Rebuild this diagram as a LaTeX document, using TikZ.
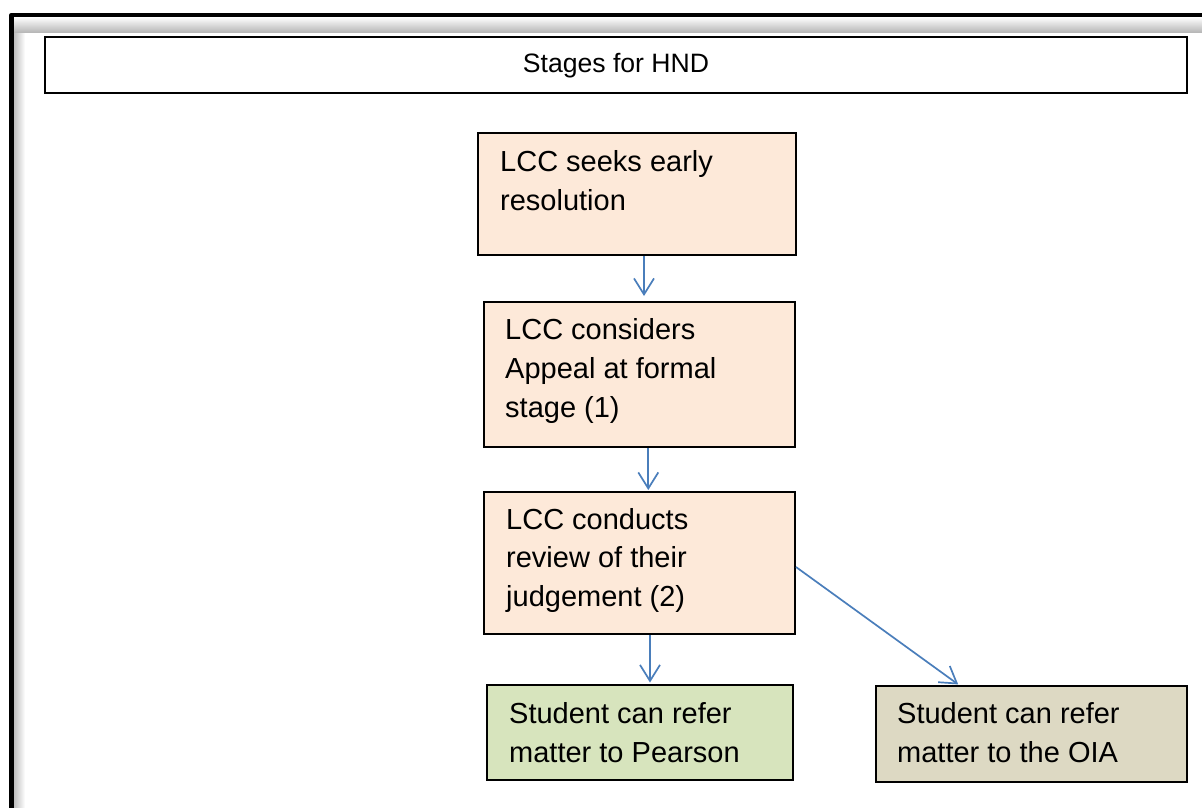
\documentclass[tikz,border=0pt]{standalone}
\usepackage{fontspec}
\setmainfont{Liberation Sans}
\usetikzlibrary{arrows.meta}
\definecolor{peach}{HTML}{FDE9D9}
\definecolor{sage}{HTML}{D7E4BD}
\definecolor{tan}{HTML}{DDD9C3}
\definecolor{arrblue}{HTML}{4A7EBB}
\tikzset{
  boxnode/.style={draw=black, line width=2pt, rectangle, inner sep=0pt},
  txt/.style={inner sep=0pt, align=left, font=\fontsize{29}{38.8}\selectfont, anchor=base west},
  arr/.style={draw=arrblue, line width=1.7pt, -{Straight Barb[length=16pt,width=20pt]}}
}
\begin{document}
\begin{tikzpicture}[x=1pt,y=-1pt]
\useasboundingbox (0,0) rectangle (1202,807);
\fill[white] (0,0) rectangle (1202,807);
% shadow inside the outer frame
\shade[left color=black!28, right color=white] (13,17) rectangle (25,807);
\shade[bottom color=black!28, top color=white] (13,17) rectangle (1202,32);
% outer frame (right and bottom edges lie outside the picture)
\draw[line width=4.6pt, line join=round] (1240,15) -- (11.5,15) -- (11.5,840);
% title
\node[boxnode, minimum width=1142pt, minimum height=56pt] (title) at (616,65) {};
\node[inner sep=0pt, anchor=base, font=\fontsize{26.6}{32}\selectfont] (tt) at (616,72.3) {Stages for HND};
% boxes
\node[boxnode, fill=peach, minimum width=318pt, minimum height=122pt] (b1) at (637,194) {};
\node[boxnode, fill=peach, minimum width=311pt, minimum height=145pt] (b2) at (639.5,374.5) {};
\node[boxnode, fill=peach, minimum width=311pt, minimum height=142pt] (b3) at (639.5,563) {};
\node[boxnode, fill=sage, minimum width=306pt, minimum height=95pt] (b4) at (640,732.5) {};
\node[boxnode, fill=tan, minimum width=311pt, minimum height=96pt] (b5) at (1031.5,734) {};
% texts (anchor at baseline of last line)
\node[txt] (t1) at (500,210.7) {LCC seeks early\\resolution};
\node[txt] (t2) at (505,417.3) {LCC considers\\Appeal at formal\\stage (1)};
\node[txt] (t3) at (506,606.7) {LCC conducts\\review of their\\judgement (2)};
\node[txt] (t4) at (509,762.7) {Student can refer\\matter to Pearson};
\node[txt] (t5) at (897,762.7) {Student can refer\\matter to the OIA};
% connectors
\draw[arr, shorten >=5pt] ([xshift=7pt]b1.south) -- ([xshift=7pt]b1.south |- b2.north);
\draw[arr, shorten >=1pt] ([xshift=8.8pt]b2.south) -- ([xshift=8.8pt]b2.south |- b3.north);
\draw[arr, shorten >=1.5pt] ([xshift=10.5pt]b3.south) -- ([xshift=10.5pt]b3.south |- b4.north);
\draw[arr, shorten >=1pt] ([yshift=-4pt]b3.east) -- ([xshift=-72.5pt]b5.north);
\end{tikzpicture}
\end{document}
